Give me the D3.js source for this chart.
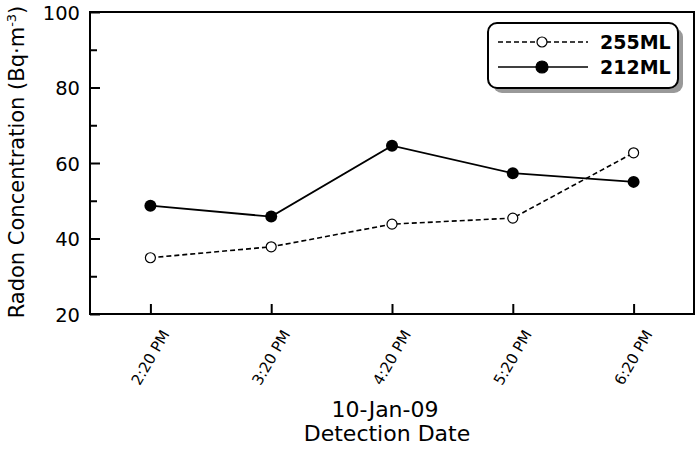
<!DOCTYPE html>
<html><head><meta charset="utf-8">
<script src="https://cdn.jsdelivr.net/npm/d3@7"></script>
<style>body{margin:0;background:#fff}svg{display:block}text{font-family:"DejaVu Sans",Verdana,sans-serif;fill:#000}</style>
</head><body><svg id="c" width="695" height="453"></svg>
<script>
const categories = ["2:20 PM","3:20 PM","4:20 PM","5:20 PM","6:20 PM"];
const s255 = [34.9, 37.8, 43.8, 45.4, 62.7];
const s212 = [48.7, 45.8, 64.6, 57.3, 55.0];
const seriesNames = ["255ML","212ML"];
const yTicks = [20,40,60,80,100];
const yMinor = [30,50,70,90];

const svg = d3.select("#c");
const L=90, R=694, T=12, B=314;
const x = d3.scalePoint().domain(categories).range([L,R]).padding(0.5);
const y = d3.scaleLinear().domain([20,100]).range([B,T]);

// frame
svg.append("rect").attr("x",L).attr("y",T).attr("width",R-L).attr("height",B-T)
  .attr("fill","none").attr("stroke","#000").attr("stroke-width",2);

// y axis
const ya = svg.append("g").attr("transform",`translate(${L},0)`)
  .call(d3.axisLeft(y).tickValues(yTicks).tickSize(-10).tickPadding(10).tickFormat(d3.format("d")));
ya.select(".domain").remove();
ya.selectAll("line").attr("stroke-width",2);
ya.selectAll("text").attr("font-size",19.5).attr("dy","0.36em");
const ym = svg.append("g").attr("transform",`translate(${L},0)`)
  .call(d3.axisLeft(y).tickValues(yMinor).tickSize(-7).tickFormat(""));
ym.select(".domain").remove();
ym.selectAll("line").attr("stroke-width",2);

// x axis
const xa = svg.append("g").attr("transform",`translate(0,${B})`)
  .call(d3.axisBottom(x).tickSize(-10).tickPadding(0));
xa.select(".domain").remove();
xa.selectAll("line").attr("stroke-width",2);
xa.selectAll("text").attr("font-size",15).attr("text-anchor","end")
  .attr("y",0).attr("dy",0)
  .attr("transform","translate(19,20) rotate(-60)");

// titles
const yt = svg.append("text").attr("transform","translate(24,162) rotate(-90)").attr("text-anchor","middle")
  .attr("font-size",21);
yt.append("tspan").text("Radon Concentration (Bq·m");
yt.append("tspan").attr("font-size",13).attr("dy",-8).text("-3");
yt.append("tspan").attr("dy",8).text(")");
svg.append("text").attr("x",385).attr("y",417).attr("text-anchor","middle").attr("font-size",22).text("10-Jan-09");
svg.append("text").attr("x",387).attr("y",441).attr("text-anchor","middle").attr("font-size",22).text("Detection Date");

const line = d3.line().x((d,i)=>x(categories[i])).y(d=>y(d));
svg.append("path").datum(s255).attr("d",line).attr("fill","none").attr("stroke","#000")
  .attr("stroke-width",1.6).attr("stroke-dasharray","5,3");
svg.append("path").datum(s212).attr("d",line).attr("fill","none").attr("stroke","#000").attr("stroke-width",1.8);
svg.selectAll(".m255").data(s255).enter().append("circle").attr("cx",(d,i)=>x(categories[i])).attr("cy",d=>y(d))
  .attr("r",5).attr("fill","#fff").attr("stroke","#000").attr("stroke-width",1.2);
svg.selectAll(".m212").data(s212).enter().append("circle").attr("cx",(d,i)=>x(categories[i])).attr("cy",d=>y(d))
  .attr("r",6).attr("fill","#000");

// legend
const lg = svg.append("g");
lg.append("rect").attr("x",493).attr("y",28).attr("width",190).attr("height",65).attr("rx",9)
  .attr("fill","#999");
lg.append("rect").attr("x",488).attr("y",23).attr("width",190).attr("height",65).attr("rx",9)
  .attr("fill","#fff").attr("stroke","#000").attr("stroke-width",2);
const rows=[{y:42,dash:"5,3",fill:"#fff"},{y:67,dash:null,fill:"#000"}];
rows.forEach((r,i)=>{
  lg.append("line").attr("x1",498).attr("x2",588).attr("y1",r.y).attr("y2",r.y).attr("stroke","#000")
    .attr("stroke-width",1.6).attr("stroke-dasharray",r.dash);
  lg.append("circle").attr("cx",542).attr("cy",r.y).attr("r",i?6:5).attr("fill",r.fill).attr("stroke","#000").attr("stroke-width",1.2);
  lg.append("text").attr("x",600).attr("y",r.y).attr("dy","0.36em").attr("font-size",19).attr("font-weight","bold").text(seriesNames[i]);
});
</script></body></html>
